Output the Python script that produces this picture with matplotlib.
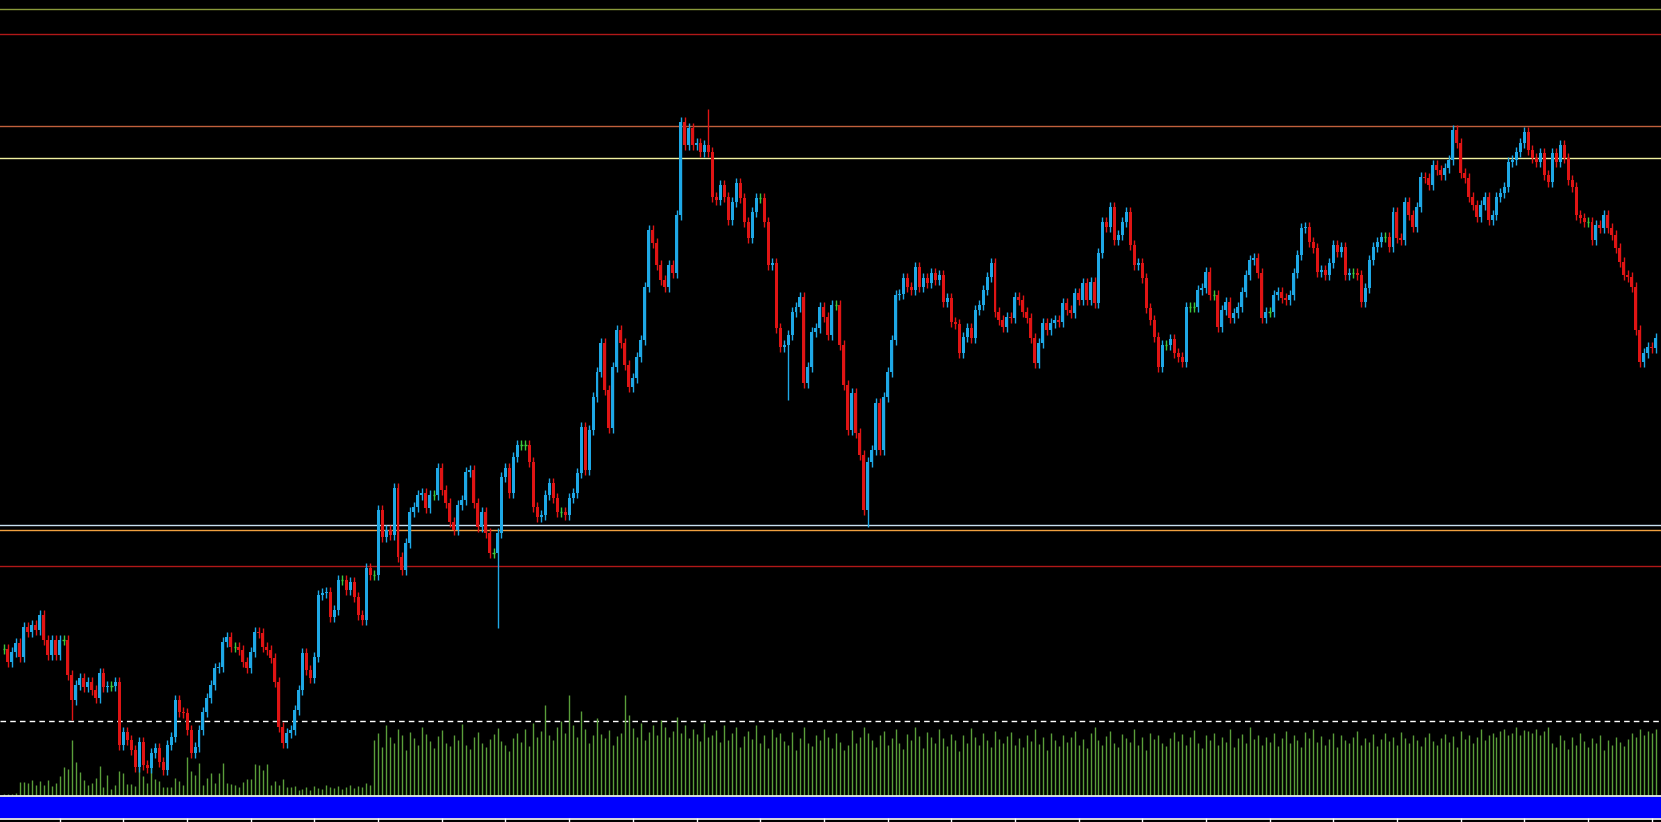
import matplotlib
matplotlib.use("Agg")
import matplotlib.pyplot as plt
import numpy as np

# closes in chart pixel-price units (screen y, top = 0)
seg_a = [649,662,652,643,657,627,632,625,630,615,640,655,640,655,640,640,675,700,685,678,687,682,690,698,673,687,686,686,682,745,732,740,750,767,742,765,768,753,748,762,770,745,737,700,712,713,730,753,747,730,712,698]
seg_b = [685,668,667,642,637,647,647,650,662,668,652,632,633,647,650,658,682,727,743,733,730,710,690,653,670,678,657,595,593,592,617,610,580,580,590,582,597,615,620,568,575,575,510,537,530,535,488,557,570,543,512,507,495,493,508,495,495,468,490,503,522,530,505,500,472,470,503,527,512,533,553,553,533,477,468,493,457,445,445,445,462,507,517,515,495,483,498,512,512,515,498,493,473]
seg_c = [427,470,430,397,372,343,390,428,367,330,343,365,387,378,357,340,287,230,243,265,280,287,265,273,215,122,145,128,145,143,152,145,152,197,200,185,197,220,202,183,198,222,238,212,198,198,222,265,263,328,347,345,335,312,307,297,383,367,332,328,307,317,335,305,305,345,385,430,393,433,455,510,462,450,403,450,397,372,340,295,294,278,287,290,267,287,278,283,273,280,275,302,298,322,324,353,337,328,338,310,305,290,277,263,312,320,327,317,318,297,300,312,318,338,363,343,323,330,323,320,322,303,310,313,293,300,283,300,282,303,253,222]
seg_d = [227,207,240,235,222,212,245,265,263,278,308,320,337,367,345,345,339,353,357,362,307,307,307,290,288,272,295,295,327,310,302,318,313,307,292,275,260,258,273,318,312,312,295,292,298,300,295,273,255,228,227,242,248,272,270,275,263,245,252,247,275,273,273,275,302,288,260,247,242,237,237,247,212,238,240,202,215,227,207,177,178,185,165,170,175,168,160,130,143,173,178,197,205,217,205,197,220,215,197,193,187,162,160,152,143,132,150,158,162,153,175,182,153,162,145,158,180,187,215,218,222,222,240,225,228,215,228,235,248,262,275,277,287,330,362,353,347,348,338]
closes = seg_a + seg_b + seg_c + seg_d

# notable long wicks: index -> (high, low)
long_wicks = {124: (None, 628), 177: (109, None), 197: (None, 400), 217: (None, 527), 17: (None, 720)}

vol_early = [1,1,1,2,13,13,12,15,10,14,10,15,9,12,19,28,26,55,33,23,15,10,12,17,29,8,20,6,10,24,22,11,11,9,28,19,12,31,16,14,8,8,8,17,14,10,38,24,20,32,10,17,22,12,22,32,12,11,10,8,13,16,16,31,30,25,31,10,14,10,16,8,8,9,5,
             6,8,5,9,7,6,10,8,7,9,6,8,10,7,9,8,12,10]
vol_late = [55,62,48,70,58,52,66,60,45,63,57,50,68,61,54,47,59,65,52,49,
            60,55,71,50,46,58,63,52,48,56,61,67,54,50,44,57,62,53,66,49,
            72,58,64,90,60,55,68,74,62,100,70,58,84,66,52,60,77,61,57,65,
            50,59,62,100,80,67,58,72,55,63,70,60,75,68,58,64,78,62,70,57,
            66,61,54,72,58,60,65,53,70,55,62,68,48,59,64,56,70,52,60,47,
            66,58,62,54,50,63,45,57,68,52,49,60,55,66,58,47,62,53,45,50,
            65,52,58,68,62,55,48,60,64,50,57,66,52,46,61,55,68,59,47,63,
            58,52,66,57,49,61,55,44,60,52,67,58,50,62,55,48,64,56,52,59,
            63,50,57,48,60,54,66,51,58,45,62,55,49,60,53,58,64,50,56,47,
            62,68,55,50,59,64,52,48,61,57,53,66,50,58,45,62,56,60,52,49,
            57,63,54,61,50,58,65,52,47,60,55,62,50,58,53,66,48,57,61,52,
            68,56,60,50,58,53,62,49,57,64,52,60,55,48,63,57,66,53,59,50,
            56,62,48,60,55,52,58,64,50,57,53,61,49,56,62,54,58,50,63,57,
            52,60,55,49,58,62,54,50,57,61,53,59,48,64,56,60,52,58,66,55,
            60,62,58,64,66,60,62,68,60,65,64,62,66,60,64,68,
            52,48,60,55,46,58,50,62,54,48,57,52,60,45,55,50,58,53,49,56,
            62,58,66,60,64,62,66,63]
volume = (vol_early + vol_late)[:len(closes)]

levels = [9.5, 34, 126, 158, 525, 530, 566]
level_colors = ["#8a9a3a", "#b01818", "#c0603c", "#f0f0a0", "#c8e0f0", "#f0a040", "#b01818"]

n = len(closes)
x = np.arange(n)
c = np.array(closes, float)
o = np.concatenate([[c[0]], c[:-1]])

BLUE = "#1ea8e6"
RED = "#e01414"
GREEN = "#3cc83c"

fig = plt.figure(figsize=(16.61, 8.22), dpi=100, facecolor="black")
ax = fig.add_axes([0, 0, 1, 1])
ax.set_facecolor("black")
ax.set_xlim(-1.0, 1661 / 3.98 - 1.0)
ax.set_ylim(822, 0)
ax.axis("off")

for y, col in zip(levels, level_colors):
    ax.axhline(y, color=col, lw=1.0, zorder=1)
ax.axhline(721, color="white", lw=1.0, ls=(0, (4, 3)), zorder=1)

# volume
vx = x[:len(volume)]
ax.vlines(vx, 795, 795 - np.array(volume), color="#5a9e3a", lw=1.0, zorder=2)

# candles
for i in range(n):
    hi = min(o[i], c[i]) - 5
    lo = max(o[i], c[i]) + 5
    if i in long_wicks:
        h, l = long_wicks[i]
        if h is not None:
            hi = h
        if l is not None:
            lo = l
    if c[i] < o[i]:
        col = BLUE
    elif c[i] > o[i]:
        col = RED
    else:
        col = GREEN
    ax.vlines(i, hi, lo, color=col, lw=1.0, zorder=3)
    top, bot = min(o[i], c[i]), max(o[i], c[i])
    if bot - top < 1:
        ax.hlines(c[i], i - 0.3, i + 0.3, color=col, lw=1.0, zorder=4)
    else:
        ax.bar(i, bot - top, bottom=top, width=0.75, color=col, zorder=4, linewidth=0)

# bottom bar
ax.axhspan(797, 817, color="#0000ff", zorder=5)
ax.axhline(795.5, color="white", lw=1.2, zorder=6)
ax.axhline(818.5, color="white", lw=1.2, zorder=6)
ax.vlines(np.arange(14, n, 16), 818, 822, color="white", lw=1.0, zorder=6)

fig.savefig("out.png", dpi=100, facecolor="black")
